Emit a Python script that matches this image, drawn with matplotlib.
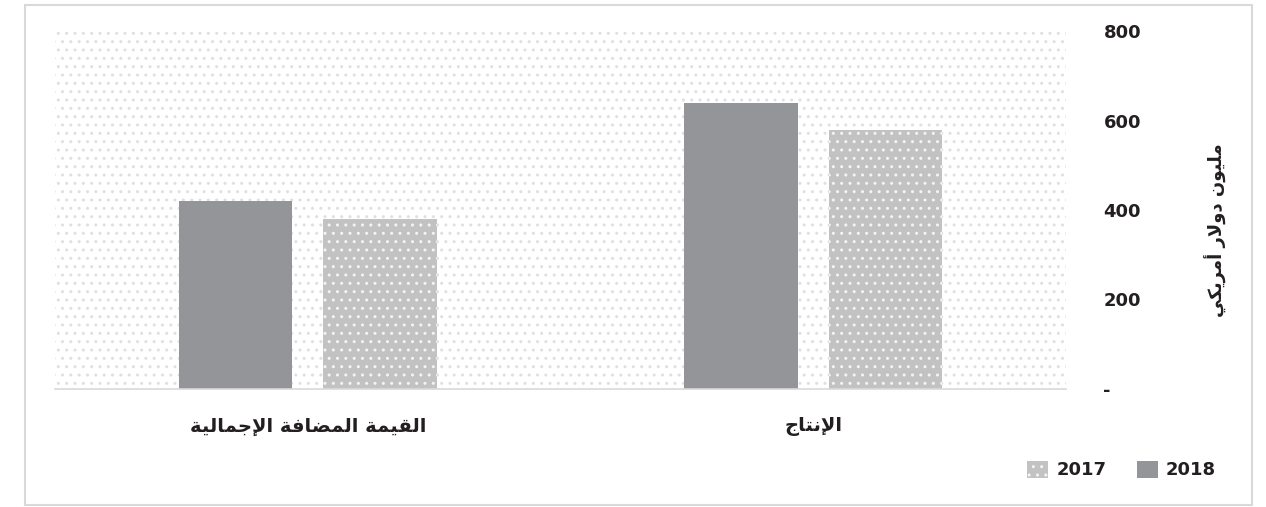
import matplotlib
matplotlib.use('Agg')
import matplotlib.pyplot as plt
from matplotlib.patches import Patch, Rectangle

# data (million US$)
categories = ['القيمة المضافة الإجمالية', 'الإنتاج']
years = ['2018', '2017']
values_2018 = [419, 638]
values_2017 = [379, 578]
y_ticks = [0, 200, 400, 600, 800]
y_tick_labels = ['-', '200', '400', '600', '800']
y_title = 'مليون دولار أمريكي'

# --- minimal arabic shaping (matplotlib has no complex text layout) ---
FORMS = {
    'ا': (0xFE8D, 0xFE8E, None, None), 'أ': (0xFE83, 0xFE84, None, None),
    'إ': (0xFE87, 0xFE88, None, None), 'آ': (0xFE81, 0xFE82, None, None),
    'ب': (0xFE8F, 0xFE90, 0xFE91, 0xFE92), 'ة': (0xFE93, 0xFE94, None, None),
    'ت': (0xFE95, 0xFE96, 0xFE97, 0xFE98), 'ج': (0xFE9D, 0xFE9E, 0xFE9F, 0xFEA0),
    'د': (0xFEA9, 0xFEAA, None, None), 'ر': (0xFEAD, 0xFEAE, None, None),
    'ض': (0xFEBD, 0xFEBE, 0xFEBF, 0xFEC0), 'ف': (0xFED1, 0xFED2, 0xFED3, 0xFED4),
    'ق': (0xFED5, 0xFED6, 0xFED7, 0xFED8), 'ك': (0xFED9, 0xFEDA, 0xFEDB, 0xFEDC),
    'ل': (0xFEDD, 0xFEDE, 0xFEDF, 0xFEE0), 'م': (0xFEE1, 0xFEE2, 0xFEE3, 0xFEE4),
    'ن': (0xFEE5, 0xFEE6, 0xFEE7, 0xFEE8), 'ه': (0xFEE9, 0xFEEA, 0xFEEB, 0xFEEC),
    'و': (0xFEED, 0xFEEE, None, None), 'ي': (0xFEF1, 0xFEF2, 0xFEF3, 0xFEF4),
    'لا': (0xFEFB, 0xFEFC, None, None), 'لأ': (0xFEF7, 0xFEF8, None, None),
    'لإ': (0xFEF9, 0xFEFA, None, None), 'لآ': (0xFEF5, 0xFEF6, None, None),
}


def shape(text):
    units = []
    i = 0
    while i < len(text):
        pair = text[i:i + 2]
        if pair in FORMS and len(pair) == 2:
            units.append(pair)
            i += 2
        else:
            units.append(text[i])
            i += 1
    out = []
    for k, u in enumerate(units):
        if u not in FORMS:
            out.append(u)
            continue
        prev = units[k - 1] if k > 0 else None
        nxt = units[k + 1] if k + 1 < len(units) else None
        iso, fin, ini, med = FORMS[u]
        c_prev = prev in FORMS and FORMS[prev][2] is not None
        c_next = ini is not None and nxt in FORMS
        if c_prev and c_next:
            code = med
        elif c_prev:
            code = fin
        elif c_next:
            code = ini
        else:
            code = iso
        out.append(chr(code))
    return ''.join(out)[::-1]


plt.rcParams['font.family'] = ['DejaVu Sans']
plt.rcParams['hatch.linewidth'] = 1.0

fig = plt.figure(figsize=(12.66, 5.07), dpi=100)
fig.patches.append(Rectangle((25 / 1266, 1 - 505 / 507), 1227 / 1266, 500 / 507,
                             transform=fig.transFigure, fill=False,
                             edgecolor='#d9d9d9', linewidth=1.5))
ax = fig.add_axes([55 / 1266, 1 - 389 / 507, 1011 / 1266, 358 / 507])

# dotted plot-area background
ax.add_patch(Rectangle((0, 0), 1, 1, transform=ax.transAxes, facecolor='white',
                       edgecolor='#e0e0e0', hatch='..', linewidth=0, zorder=0))

x = list(range(len(categories)))
w = 0.224
off = 0.143
c2018 = '#939598'
c2017 = '#c2c2c2'
ax.bar([p - off for p in x], values_2018, w, color=c2018, zorder=2)
ax.bar([p + off for p in x], values_2017, w, facecolor=c2017, edgecolor='#f4f4f4',
       hatch='..', linewidth=0, zorder=2)

ax.set_xlim(-0.5, 1.5)
ax.set_ylim(0, 800)
for s in ['top', 'left', 'right']:
    ax.spines[s].set_visible(False)
ax.spines['bottom'].set_color('#d9d9d9')
ax.spines['bottom'].set_linewidth(1.2)
ax.spines['bottom'].set_zorder(3)

ax.yaxis.tick_right()
ax.set_yticks(y_ticks)
ax.set_yticklabels(y_tick_labels, fontsize=13, fontweight='bold', color='#231f20')
ax.tick_params(axis='y', length=0, pad=27)
ax.set_xticks(x)
ax.set_xticklabels([shape(c) for c in categories], fontsize=14, fontweight='bold',
                   color='#231f20')
ax.tick_params(axis='x', length=0, pad=20)

fig.text(1216 / 1266, 1 - 230 / 507, shape(y_title), rotation=90, fontsize=13,
         fontweight='bold', color='#231f20', ha='center', va='center')

handles = [Patch(facecolor=c2017, edgecolor='#f4f4f4', hatch='..', linewidth=0),
           Patch(facecolor=c2018)]
fig.legend(handles, years[::-1], loc='center right', ncol=2, frameon=False,
           bbox_to_anchor=(1216 / 1266, 1 - 470 / 507),
           prop={'size': 13, 'weight': 'bold'}, handlelength=1.15, handleheight=1.1,
           handletextpad=0.45, columnspacing=1.7, borderaxespad=0, borderpad=0,
           labelcolor='#231f20')

fig.savefig('out.png', dpi=100)
